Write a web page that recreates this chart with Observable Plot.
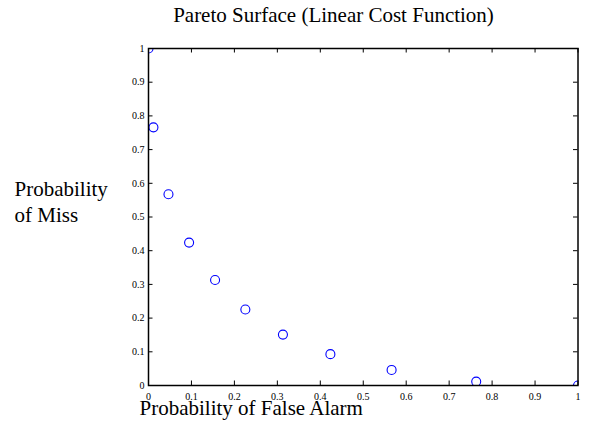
<!DOCTYPE html>
<html>
<head>
<meta charset="utf-8">
<script src="https://cdn.jsdelivr.net/npm/d3@7"></script>
<script src="https://cdn.jsdelivr.net/npm/@observablehq/plot@0.6"></script>
<style>
  html, body { margin: 0; padding: 0; background: #fff; }
  #chart svg { display: block; }
  #chart svg text { font-family: 'Liberation Serif', 'Times New Roman', Times, serif; }
</style>
</head>
<body>
<div id="chart"></div>
<script>
// Pareto front of the detector: probability of false alarm vs probability of miss
const falseAlarm = [0, 0.0115, 0.0465, 0.0945, 0.155, 0.2255, 0.313, 0.4235, 0.566, 0.763, 1];
const miss       = [1, 0.766, 0.5675, 0.424, 0.313, 0.2255, 0.151, 0.093, 0.0462, 0.0115, 0];

const tickValues = [0, 0.1, 0.2, 0.3, 0.4, 0.5, 0.6, 0.7, 0.8, 0.9, 1];

const titleText = ["Pareto Surface (Linear Cost Function)"];
const xLabelText = ["Probability of False Alarm"];
const yLabelText = ["Probability\nof Miss"];

const points = falseAlarm.map((fa, i) => ({fa, miss: miss[i]}));

const W = 589, H = 423;
const mL = 148, mR = 11.5, mT = 48, mB = 38;
const plotW = W - mL - mR, plotH = H - mT - mB;
const tickLen = 4.5;
const serif = "'Liberation Serif', 'Times New Roman', Times, serif";

const chart = Plot.plot({
  width: W,
  height: H,
  marginLeft: mL,
  marginRight: mR,
  marginTop: mT,
  marginBottom: mB,
  style: {background: "#fff", fontFamily: serif, color: "#000"},
  x: {domain: [0, 1]},
  y: {domain: [0, 1]},
  marks: [
    // inward tick marks on all four sides
    Plot.tickX(tickValues, {x: d => d, stroke: "#000", strokeWidth: 1, insetTop: plotH - tickLen}),
    Plot.tickX(tickValues, {x: d => d, stroke: "#000", strokeWidth: 1, insetBottom: plotH - tickLen}),
    Plot.tickY(tickValues, {y: d => d, stroke: "#000", strokeWidth: 1, insetRight: plotW - tickLen}),
    Plot.tickY(tickValues, {y: d => d, stroke: "#000", strokeWidth: 1, insetLeft: plotW - tickLen}),
    // tick labels
    Plot.axisX(tickValues, {
      anchor: "bottom", tickSize: 0, tickPadding: 7, label: null,
      tickFormat: d => `${d}`, fontSize: 10, fontFamily: serif, fill: "#000"
    }),
    Plot.axisY(tickValues, {
      anchor: "left", tickSize: 0, tickPadding: 4, label: null,
      tickFormat: d => `${d}`, fontSize: 10, fontFamily: serif, fill: "#000"
    }),
    // data points, clipped to the axes box
    Plot.dot(points, {
      x: "fa", y: "miss", r: 4.5, stroke: "#0000ff", fill: "none",
      strokeWidth: 1.1, clip: true
    }),
    Plot.frame({stroke: "#000", strokeWidth: 1.5}),
    // title and axis labels
    Plot.text(titleText, {
      text: d => d, frameAnchor: "top-left", dx: 333 - mL, dy: 21 - mT,
      textAnchor: "middle", lineAnchor: "bottom", fontSize: 21, fontFamily: serif, fill: "#000"
    }),
    Plot.text(xLabelText, {
      text: d => d, frameAnchor: "top-left", dx: 139 - mL, dy: 414 - mT,
      textAnchor: "start", lineAnchor: "bottom", fontSize: 21, fontFamily: serif, fill: "#000"
    }),
    Plot.text(yLabelText, {
      text: d => d, frameAnchor: "top-left", dx: 14 - mL, dy: 221 - mT,
      textAnchor: "start", lineAnchor: "bottom", lineHeight: 1.2,
      fontSize: 21, fontFamily: serif, fill: "#000"
    })
  ]
});

document.getElementById("chart").appendChild(chart);
</script>
</body>
</html>
